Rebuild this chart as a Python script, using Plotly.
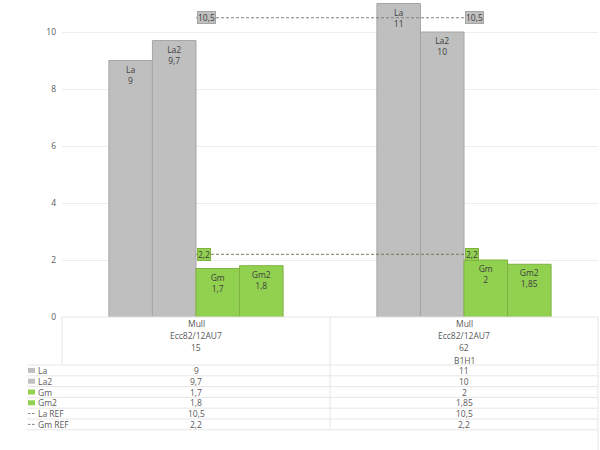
import plotly.graph_objects as go

# ---- data ----
categories = [["Mull", "Ecc82/12AU7", "15"], ["Mull", "Ecc82/12AU7", "62", "B1H1"]]
la = [9, 11]
la2 = [9.7, 10]
gm = [1.7, 2]
gm2 = [1.8, 1.85]
la_ref = [10.5, 10.5]
gm_ref = [2.2, 2.2]
y_ticks = [0, 2, 4, 6, 8, 10]

W, H = 600, 450
FONT = "Open Sans"
TXT = "#595959"
GRAY, GRAY_B = "#BFBFBF", "#A5A5A5"
GREEN, GREEN_B = "#92D050", "#7FB241"


def fmt(v):
    return f"{v:g}".replace(".", ",")


def px(x):
    return x / W


def py(y):
    return 1 - y / H


xs = list(range(len(categories)))
fig = go.Figure()

bar_series = [("La", la, GRAY, GRAY_B), ("La2", la2, GRAY, GRAY_B),
              ("Gm", gm, GREEN, GREEN_B), ("Gm2", gm2, GREEN, GREEN_B)]
for name, vals, col, bcol in bar_series:
    fig.add_trace(go.Bar(
        x=xs, y=vals, name=name,
        marker=dict(color=col, line=dict(color=bcol, width=1)),
        text=[f"{name}<br>{fmt(v)}" for v in vals],
        textposition="inside", insidetextanchor="end", textangle=0,
        insidetextfont=dict(family=FONT, size=8.5, color="#404040"),
        hoverinfo="skip",
    ))

ref_series = [("La REF", la_ref, "#7F7F7F", GRAY, GRAY_B),
              ("Gm REF", gm_ref, "#6E7F55", GREEN, GREEN_B)]
for name, vals, lcol, fcol, bcol in ref_series:
    fig.add_trace(go.Scatter(
        x=xs, y=vals, name=name, mode="lines",
        line=dict(color=lcol, width=1, dash="3px,2px"), hoverinfo="skip",
    ))
    for xi, v in zip(xs, vals):
        fig.add_annotation(x=xi, y=v, xref="x", yref="y", text=fmt(v),
                           showarrow=False, xanchor="left", yanchor="middle",
                           xshift=1, bgcolor=fcol, bordercolor=bcol,
                           borderwidth=1, borderpad=0,
                           font=dict(family=FONT, size=8.5, color="#404040"))

# ---- layout ----
x0, x1, y_axis = 62, 598, 317
fig.update_layout(
    width=W, height=H, margin=dict(l=0, r=0, t=0, b=0, autoexpand=False),
    paper_bgcolor="white", plot_bgcolor="white",
    barmode="group", bargap=0.35, bargroupgap=0,
    showlegend=False,
    font=dict(family=FONT, size=8.5, color=TXT),
    xaxis=dict(domain=[px(x0), px(x1)], range=[-0.5, len(categories) - 0.5],
               tickvals=xs, showticklabels=False, automargin=False,
               showgrid=False, zeroline=False, showline=False, ticks="",
               fixedrange=True),
    yaxis=dict(domain=[py(y_axis), 1], range=[0, y_axis / 28.5],
               tickvals=y_ticks, ticktext=[fmt(t) for t in y_ticks],
               showgrid=True, gridcolor="#EDEDED", gridwidth=1, automargin=False,
               zeroline=False, showline=False, ticks="",
               ticklabelstandoff=5,
               tickfont=dict(family=FONT, size=8.5, color=TXT), fixedrange=True),
)

# ---- data table ----
LINE = "#E6E6E6"
row_top, row_h = 365, 10.8
cat_line_h = 12.4
rows = [("La", la, "bar", GRAY), ("La2", la2, "bar", GRAY),
        ("Gm", gm, "bar", GREEN), ("Gm2", gm2, "bar", GREEN),
        ("La REF", la_ref, "dash", "#7F7F7F"), ("Gm REF", gm_ref, "dash", "#7F7F7F")]
n = len(rows)
bottom = row_top + n * row_h


def hline(y, xa, xb):
    fig.add_shape(type="line", xref="paper", yref="paper", x0=px(xa), x1=px(xb),
                  y0=py(y), y1=py(y), line=dict(color=LINE, width=1))


def vline(x, ya, yb):
    fig.add_shape(type="line", xref="paper", yref="paper", x0=px(x), x1=px(x),
                  y0=py(ya), y1=py(yb), line=dict(color=LINE, width=1))


hline(y_axis, x0, x1)
for i in range(n + 1):
    hline(row_top + i * row_h, 27, x1)
vline(x0, y_axis, row_top)
cat_w = (x1 - x0) / len(categories)
for k in range(1, len(categories)):
    vline(x0 + k * cat_w, y_axis, bottom)
vline(x1, y_axis, H)

# category labels (multi-level), one annotation per line
for k, lines in enumerate(categories):
    for j, t in enumerate(lines):
        fig.add_annotation(x=k, y=py(323 + j * cat_line_h), xref="x", yref="paper",
                           text=t, showarrow=False, xanchor="center",
                           yanchor="middle",
                           font=dict(family=FONT, size=8.5, color=TXT))

for i, (name, vals, kind, col) in enumerate(rows):
    yc = row_top + (i + 0.5) * row_h
    if kind == "bar":
        fig.add_shape(type="rect", xref="paper", yref="paper",
                      x0=px(28), x1=px(35), y0=py(yc + 2.5), y1=py(yc - 2.5),
                      fillcolor=col, line=dict(width=0))
    else:
        for a, b in [(28, 30.5), (32, 34.5)]:
            fig.add_shape(type="line", xref="paper", yref="paper",
                          x0=px(a), x1=px(b), y0=py(yc), y1=py(yc),
                          line=dict(color=col, width=1))
    fig.add_annotation(x=px(36), y=py(yc), xref="paper", yref="paper",
                       text=name, showarrow=False, xanchor="left", yanchor="middle",
                       font=dict(family=FONT, size=8.5, color=TXT))
    for k, v in enumerate(vals):
        fig.add_annotation(x=k, y=py(yc), xref="x", yref="paper",
                           text=fmt(v), showarrow=False,
                           xanchor="center", yanchor="middle",
                           font=dict(family=FONT, size=8.5, color=TXT))

fig.write_html("out.html", config={"displayModeBar": False})
